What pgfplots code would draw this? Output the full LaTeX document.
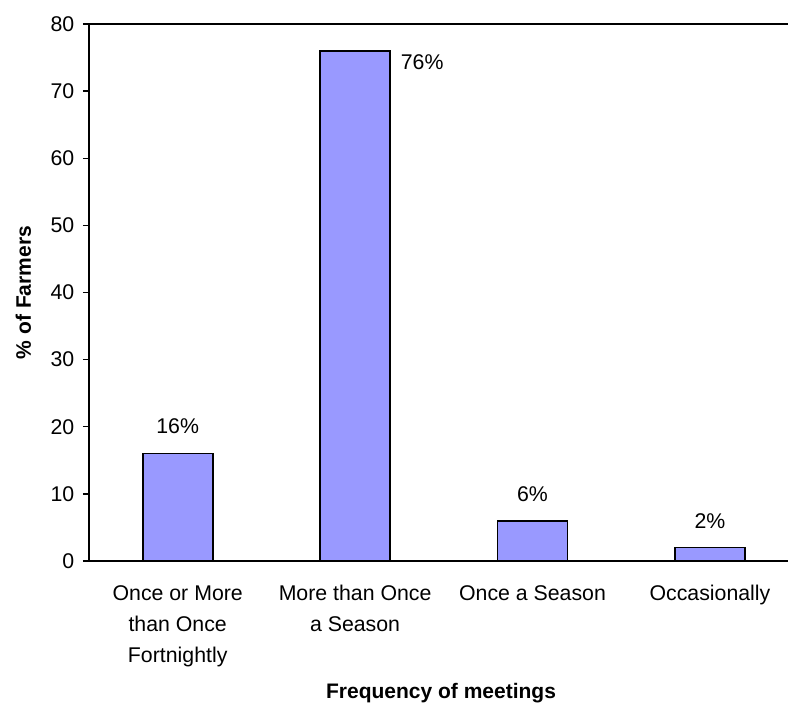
\documentclass[border=0pt]{standalone}
\usepackage{fontspec}
\setmainfont{Liberation Sans}
\usepackage{pgfplots}
\pgfplotsset{compat=1.18}
\definecolor{barblue}{HTML}{9999FF}
\begin{document}
\fontsize{21}{30}\selectfont
\begin{tikzpicture}[x=1pt,y=1pt]
\useasboundingbox (-89,-145) rectangle (699,561);
\begin{axis}[
  at={(0,0)}, anchor=south west,
  scale only axis, width=699pt, height=537pt,
  clip=false,
  ymin=0, ymax=80, ytick={0,10,...,80},
  xmin=-0.5, xmax=3.44,
  xtick={0,1,2,3},
  xticklabels={{Once or More\\than Once\\Fortnightly},{More than Once\\a Season},{Once a Season},{Occasionally}},
  axis x line=box, axis y line=left,
  axis line style={-, line width=1.7pt, black},
  xtick style={draw=none},
  ytick style={line width=1.3pt, black},
  tick align=outside, major tick length=6pt,
  /pgf/number format/assume math mode=true,
  tick label style={font=\fontsize{21.3}{31}\selectfont},
  xticklabel style={align=center, yshift=-11pt},
  yticklabel style={xshift=-1.5pt},
  ylabel={\bfseries \% of Farmers},
  ylabel style={at={(axis description cs:-0.094,0.5)}, anchor=center, rotate=0, font=\fontsize{21}{30}\selectfont},
  xlabel={\bfseries Frequency of meetings},
  xlabel style={at={(axis description cs:0.5036,0)}, anchor=center, yshift=-132pt, font=\fontsize{21}{30}\selectfont},
  ybar, bar width=70pt,
  every axis plot/.append style={fill=barblue, draw=black, line width=1.8pt, bar shift=0pt},
]
\addplot[fill=barblue, draw=black, line width=1.8pt,
  nodes near coords={\pgfmathprintnumber{\pgfplotspointmeta}\%},
  every node near coord/.append style={anchor=south, yshift=11.5pt, font=\fontsize{21.3}{30}\selectfont}]
  coordinates {(0,16) (2,6) (3,2)};
\addplot[fill=barblue, draw=black, line width=1.8pt,
  nodes near coords={\pgfmathprintnumber{\pgfplotspointmeta}\%},
  every node near coord/.append style={anchor=base west, xshift=37.8pt, yshift=-18.6pt, font=\fontsize{21.3}{30}\selectfont}]
  coordinates {(1,76)};
\end{axis}
\end{tikzpicture}
\end{document}
